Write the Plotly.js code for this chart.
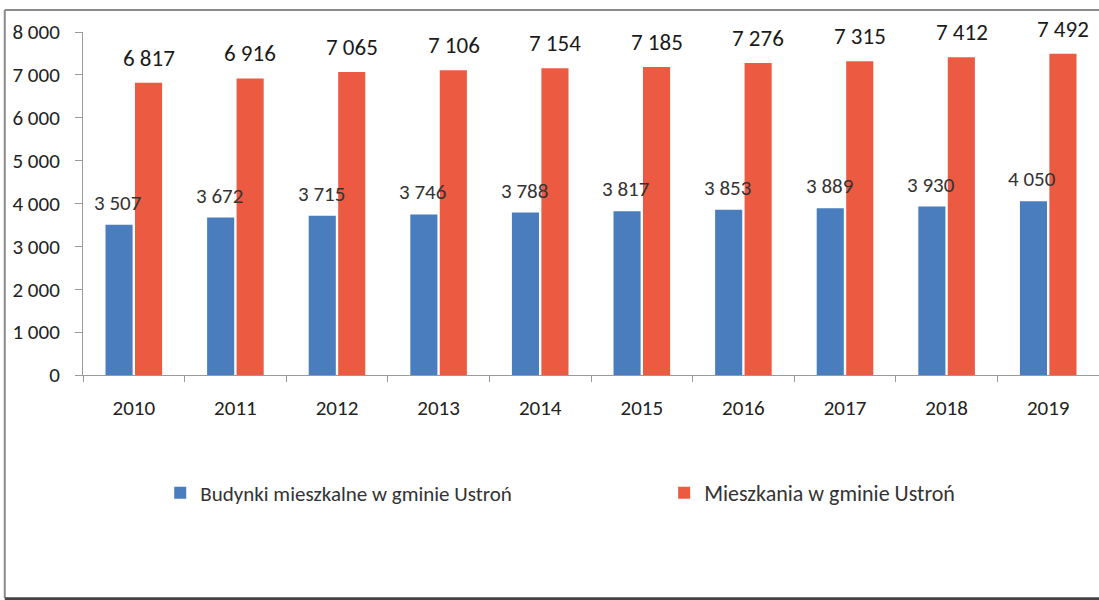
<!DOCTYPE html>
<html>
<head>
<meta charset="utf-8">
<script src="https://cdn.plot.ly/plotly-3.0.1.min.js"></script>
<style>html,body{margin:0;padding:0;background:#fff;}#chart{width:1099px;height:600px;}</style>
</head>
<body>
<div id="chart"></div>
<script>
const years = ['2010','2011','2012','2013','2014','2015','2016','2017','2018','2019'];
const budynki = [3507, 3672, 3715, 3746, 3788, 3817, 3853, 3889, 3930, 4050];
const mieszkania = [6817, 6916, 7065, 7106, 7154, 7185, 7276, 7315, 7412, 7492];
const nameBudynki = 'Budynki mieszkalne w gminie Ustroń';
const nameMieszkania = 'Mieszkania w gminie Ustroń';

const FONT = 'Carlito, Lato, "Open Sans", sans-serif';
const BLUE = '#4a7dbe';
const RED = '#ec5a42';

function fmt(v){ return String(v).replace(/\B(?=(\d{3})+(?!\d))/g, ' '); }

const annotations = [];
years.forEach((y, i) => {
  annotations.push({x: i, y: budynki[i], xref:'x', yref:'y', text: fmt(budynki[i]), showarrow:false,
    xshift:-16, yshift:7, yanchor:'bottom', font:{family:FONT, size:21, color:'#333'}});
  annotations.push({x: i, y: mieszkania[i], xref:'x', yref:'y', text: fmt(mieszkania[i]), showarrow:false,
    xshift:15, yshift:9, yanchor:'bottom', font:{family:FONT, size:23, color:'#1a1a1a'}});
});

const traces = [
  {type:'bar', name: nameBudynki, x: years, y: budynki, marker:{color: BLUE}, hoverinfo:'x+y', legend:'legend'},
  {type:'bar', name: nameMieszkania, x: years, y: mieszkania, marker:{color: RED}, hoverinfo:'x+y', legend:'legend2'}
];

const legendCommon = {orientation: 'h', xanchor: 'left', y: -0.344, yanchor: 'middle',
  font: {family: FONT, size: 21, color: '#333'}, itemwidth: 30, bgcolor: 'rgba(0,0,0,0)'};

const layout = {
  width: 1099, height: 600,
  margin: {l: 83, r: 0, t: 32, b: 225},
  paper_bgcolor: '#fff', plot_bgcolor: '#fff',
  separators: ', ',
  font: {family: FONT, color: '#333'},
  barmode: 'group', bargap: 0.42, bargroupgap: 0.08,
  showlegend: true,
  legend: Object.assign({}, legendCommon, {x: 0.076}),
  legend2: Object.assign({}, legendCommon, {x: 0.572, font: {family: FONT, size: 22, color: '#333'}}),
  xaxis: {type: 'category', range: [-0.5, 9.5], showline: true, linecolor: '#9a9a9a', linewidth: 1,
    ticks: 'outside', tickson: 'boundaries', ticklen: 6, tickcolor: '#9a9a9a',
    ticklabelstandoff: 14, tickfont: {family: FONT, size: 21, color: '#222'}, showgrid: false, zeroline: false},
  yaxis: {range: [0, 8000], dtick: 1000, tickformat: ',', showline: true, linecolor: '#9a9a9a', linewidth: 1,
    ticks: 'outside', ticklen: 7, tickcolor: '#9a9a9a', ticklabelstandoff: 11,
    tickfont: {family: FONT, size: 21, color: '#222'}, showgrid: false, zeroline: false},
  annotations: annotations,
  shapes: [
    {type:'line', xref:'paper', yref:'paper', x0:-0.077, x1:1.01, y0:1.064, y1:1.064, line:{color:'#8a8a8a', width:2}},
    {type:'line', xref:'paper', yref:'paper', x0:-0.077, x1:-0.077, y0:1.064, y1:-0.65, line:{color:'#8a8a8a', width:2}},
    {type:'line', xref:'paper', yref:'paper', x0:-0.077, x1:1.01, y0:-0.652, y1:-0.652, line:{color:'#444', width:3}}
  ]
};

Plotly.newPlot('chart', traces, layout, {displayModeBar: false, staticPlot: true});
</script>
</body>
</html>
